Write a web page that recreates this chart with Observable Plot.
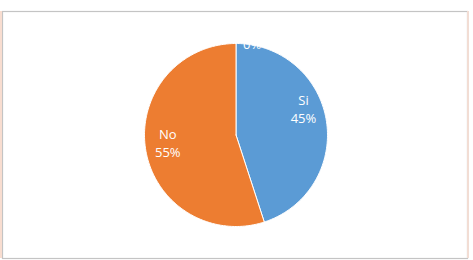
<!DOCTYPE html>
<html>
<head>
<meta charset="utf-8">
<script src="https://cdn.jsdelivr.net/npm/d3@7"></script>
<script src="https://cdn.jsdelivr.net/npm/@observablehq/plot@0.6"></script>
<style>
  html, body { margin: 0; padding: 0; background: #fff; }
  #chart { width: 473px; height: 260px; position: relative; overflow: hidden; }
  #chart::before { content: ""; position: absolute; left: 0; top: 11px; width: 2px; height: 247px; background: #f8ddd0; }
  #chart::after { content: ""; position: absolute; left: 467px; top: 11px; width: 2px; height: 247px; background: #f2ddd4; }
</style>
</head>
<body>
<div id="chart"></div>
<script>
// ---- data ----
const categories = ["Si", "No", ""];
const values = [45, 55, 0];
const percentLabels = ["45%", "55%", "0%"];
const colors = ["#5B9BD5", "#ED7D31", "#A5A5A5"];

// ---- layout (label placement: angle in degrees clockwise from top, radius fraction) ----
const labelLayout = { "Si": [68.3, 0.794], "No": [263.7, 0.75], "": [10, 1.02] };

const W = 473, H = 260;
const cx = 235.5, cy = 134.5, R = 91.5;
const mL = 2, mR = 6, mT = 11, mB = 2;

const arcs = d3.pie().sort(null).value(d => d.value)(
  categories.map((c, i) => ({ cat: c, value: values[i], pct: percentLabels[i] }))
);

// slice outlines (center -> arc -> center), unit radius
const slicePts = [];
for (const a of arcs) {
  if (a.endAngle - a.startAngle <= 0) continue;
  const steps = Math.max(2, Math.ceil((a.endAngle - a.startAngle) / (Math.PI / 180)));
  slicePts.push({ cat: a.data.cat, x: 0, y: 0 });
  for (let k = 0; k <= steps; k++) {
    const t = a.startAngle + (a.endAngle - a.startAngle) * k / steps;
    slicePts.push({ cat: a.data.cat, x: Math.sin(t), y: Math.cos(t) });
  }
  slicePts.push({ cat: a.data.cat, x: 0, y: 0 });
}

const labels = arcs.map(a => {
  const [deg, r] = labelLayout[a.data.cat];
  const t = deg * Math.PI / 180;
  const text = a.data.cat ? `${a.data.cat}\n${a.data.pct}` : a.data.pct;
  return { x: r * Math.sin(t), y: r * Math.cos(t), text };
});

const plot = Plot.plot({
  width: W, height: H,
  marginLeft: mL, marginRight: mR, marginTop: mT, marginBottom: mB,
  x: { domain: [(mL - cx) / R, (W - mR - cx) / R], axis: null },
  y: { domain: [-(H - mB - cy) / R, (cy - mT) / R], axis: null },
  color: { domain: categories, range: colors },
  style: { fontFamily: "'Open Sans', 'Liberation Sans', sans-serif", background: "transparent" },
  marks: [
    Plot.frame({ stroke: "#c4c4c4", strokeWidth: 1.2 }),
    Plot.line(slicePts, { x: "x", y: "y", z: "cat", fill: "cat", stroke: "white", strokeWidth: 1, strokeLinejoin: "round" }),
    Plot.text(labels, { x: "x", y: "y", text: "text", fill: "white", fontSize: 13, lineHeight: 1.4 })
  ]
});
document.getElementById("chart").appendChild(plot);
</script>
</body>
</html>
